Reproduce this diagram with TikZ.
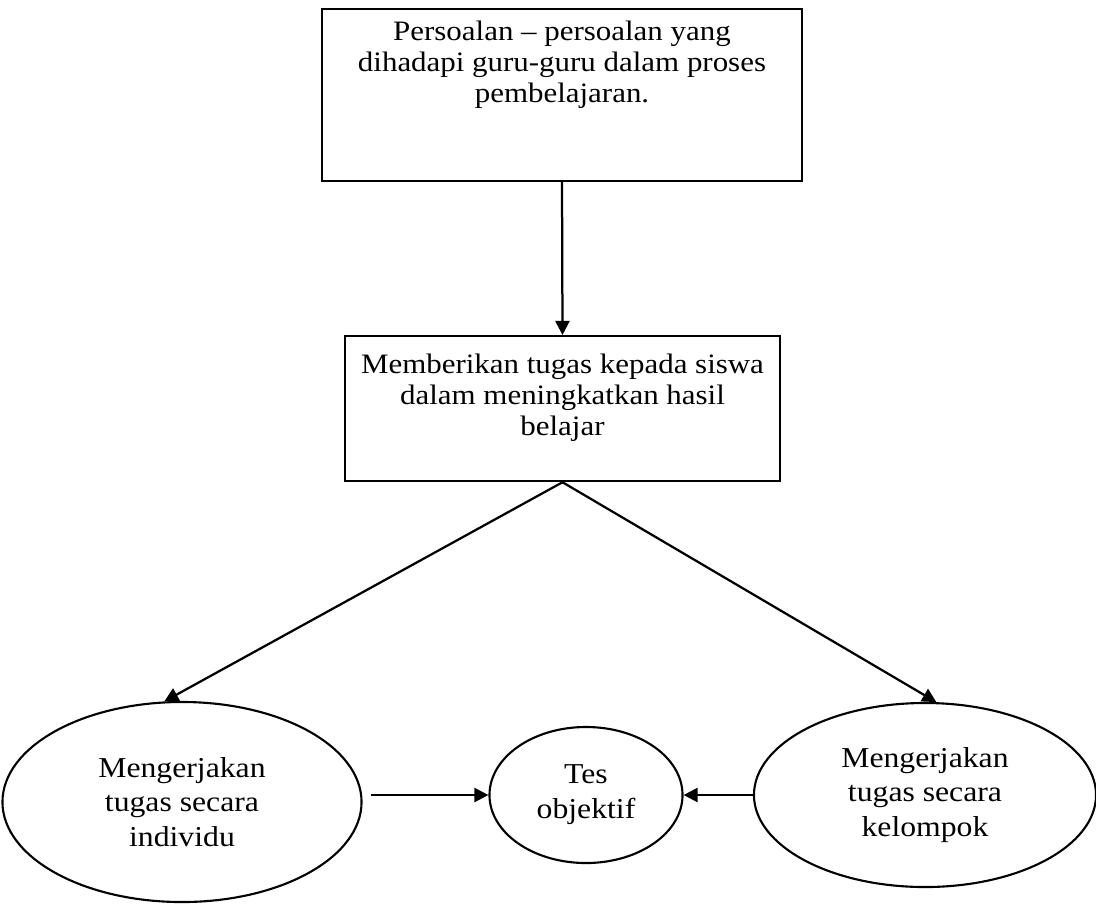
\documentclass[tikz,border=0pt]{standalone}
\usepackage{fontspec}
\setmainfont{Liberation Serif}[FakeStretch=1.1]
\usetikzlibrary{arrows.meta, shapes.geometric}

\begin{document}
\begin{tikzpicture}[
  x=0.025cm, y=-0.025cm,
  probbox/.style={rectangle, draw, line width=1.7pt, inner xsep=4pt, inner ysep=0.3cm,
                  align=center, font=\fontsize{20}{21.8}\selectfont},
  taskell/.style={ellipse, draw, line width=1.5pt, inner sep=0pt,
                  align=center, font=\fontsize{20.5}{24.8}\selectfont},
  arr/.style={-{Triangle[length=10pt, width=10pt]}, line width=1.6pt}
]

\useasboundingbox (0,0) rectangle (1096,903);

% Problem and task boxes
\node[probbox, anchor=north, minimum width=12cm, text depth=1.67cm] (soal) at (562,8)
  {Persoalan – persoalan yang\\dihadapi guru-guru dalam proses\\pembelajaran.};
\node[probbox, anchor=north, minimum width=10.875cm, inner ysep=0.45cm, text depth=0.7cm] (tugas) at (562.5,335)
  {Memberikan tugas kepada siswa\\dalam meningkatkan hasil\\belajar};

% Ways of doing the task, and the test
\node[taskell, minimum width=8.975cm, minimum height=5cm] (indiv) at (182,802)
  {Mengerjakan\\tugas secara\\individu};
\node[taskell, minimum width=4.825cm, minimum height=3.4cm] (tes) at (586,795)
  {Tes\\objektif};
\node[taskell, minimum width=8.55cm, minimum height=4.6cm] (kelp) at (925,795)
  {Mengerjakan\\tugas secara\\kelompok};

% Free start of the left arrow
\coordinate (lstart) at (371,795);

% Arrows
\draw[arr] (soal.south) -- (tugas.north);
\draw[arr] (tugas.south) -- (indiv.100);
\draw[arr] (tugas.south) -- (kelp.83);
\draw[arr] (lstart) -- (tes.west);
\draw[arr] (kelp.west) -- (tes.east);

\end{tikzpicture}
\end{document}
